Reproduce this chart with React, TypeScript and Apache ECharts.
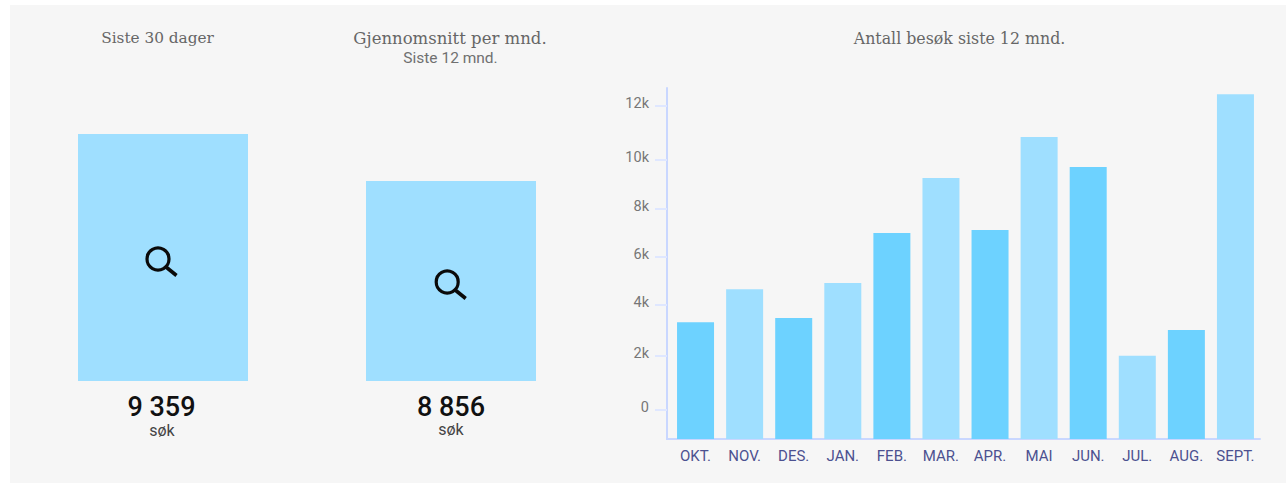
import React, { useEffect, useRef } from "react";
import * as echarts from "echarts";

const months = ["OKT.", "NOV.", "DES.", "JAN.", "FEB.", "MAR.", "APR.", "MAI", "JUN.", "JUL.", "AUG.", "SEPT."];
const visits = [3294, 4630, 3463, 4895, 6990, 9250, 7110, 10835, 9700, 1985, 2990, 12415];

const tickValues = [0, 2000, 4000, 6000, 8000, 10000, 12000];
const tickLabels = ["0", "2k", "4k", "6k", "8k", "10k", "12k"];
// The reference's axis is not evenly spaced: where each tick sits on the drawn scale.
const tickStops = [1173, 3305, 5319, 7199, 9094, 11029, 13173];

const summaryNames = ["Siste 30 dager", "Gjennomsnitt per mnd."];
const summaryValues = [9359, 8856];
const summaryLabels = ["9 359", "8 856"];

const LIGHT = "#9fdfff";
const DARK = "#6dd2ff";
const AXIS = "#c9d7ff";

function toScale(v: number): number {
  let i = 0;
  while (i < tickValues.length - 2 && v > tickValues[i + 1]) i++;
  const t = (v - tickValues[i]) / (tickValues[i + 1] - tickValues[i]);
  return tickStops[i] + t * (tickStops[i + 1] - tickStops[i]);
}

function headText(text: string, x: number, y: number, font: any, fill: string) {
  return {
    type: "text",
    x,
    y,
    z: 10,
    style: { text, fill, align: "center", verticalAlign: "middle", ...font },
  };
}

function magnifier(dx: number, dy: number) {
  return [
    {
      type: "circle",
      z: 10,
      shape: { cx: 158 + dx, cy: 259 + dy, r: 11 },
      style: { fill: "transparent", stroke: "#0a0a0a", lineWidth: 3.2 },
    },
    {
      type: "line",
      z: 10,
      shape: { x1: 166 + dx, y1: 267 + dy, x2: 176.5 + dx, y2: 275.5 + dy },
      style: { stroke: "#0a0a0a", lineWidth: 3.6 },
    },
  ];
}

const serif = (fontSize: number) => ({ fontFamily: "DejaVu Serif", fontSize });
const roboto = { fontFamily: "Roboto", fontSize: 15.5 };
const bigNumber = { fontFamily: "Roboto", fontSize: 27, fontWeight: 500, lineHeight: 24 };
const unit = { fontFamily: "Roboto", fontSize: 16, lineHeight: 15 };

export default function App() {
  const ref = useRef<HTMLDivElement>(null);
  useEffect(() => {
    const chart = echarts.init(ref.current!, null, { renderer: "svg" });
    chart.setOption({
      animation: false,
      backgroundColor: "#ffffff",
      graphic: [
        { type: "rect", z: -10, shape: { x: 10, y: 5, width: 1276, height: 478 }, style: { fill: "#f6f6f6" } },
        { type: "line", z: 5, shape: { x1: 666, y1: 439, x2: 672, y2: 439 }, style: { stroke: AXIS, lineWidth: 2 } },
        headText(summaryNames[0], 157.5, 38, serif(15.3), "#666666"),
        headText(summaryNames[1], 450, 38, serif(16.5), "#666666"),
        headText("Siste 12 mnd.", 450.5, 58, roboto, "#707070"),
        headText("Antall besøk siste 12 mnd.", 959.5, 38, serif(15.8), "#666666"),
        headText(summaryLabels[0], 161.5, 406.5, bigNumber, "#111111"),
        headText(summaryLabels[1], 451, 406.5, bigNumber, "#111111"),
        headText("søk", 162, 430.5, unit, "#444444"),
        headText("søk", 451, 429.5, unit, "#444444"),
        ...magnifier(0, 0),
        ...magnifier(289.2, 23),
      ],
      grid: [
        { left: 671, top: 88, width: 589, height: 351 },
        { left: 19, top: 134, width: 576, height: 247 },
      ],
      xAxis: [
        {
          type: "category",
          gridIndex: 0,
          data: months,
          axisLine: { show: true, lineStyle: { color: AXIS, width: 2 } },
          axisTick: { show: false },
          axisLabel: { color: "#4c5190", fontFamily: "Roboto", fontSize: 15, margin: 9, interval: 0 },
        },
        {
          type: "category",
          gridIndex: 1,
          data: summaryNames,
          axisLine: { show: false },
          axisTick: { show: false },
          axisLabel: { show: false },
        },
      ],
      yAxis: [
        {
          type: "value",
          gridIndex: 0,
          min: 0,
          max: 13860,
          offset: 4,
          splitLine: { show: false },
          axisLine: { show: true, lineStyle: { color: AXIS, width: 2 } },
          axisTick: { show: true, length: 12, customValues: tickStops, lineStyle: { color: "#dfe7ff", width: 2 } },
          axisLabel: {
            customValues: tickStops,
            color: "#777777",
            fontFamily: "Roboto",
            fontSize: 14.5,
            margin: 18,
            verticalAlign: "bottom",
            lineHeight: 4,
            formatter: (v: number) => tickLabels[tickStops.indexOf(v)] ?? "",
          },
        },
        {
          type: "value",
          gridIndex: 1,
          min: 6715,
          max: 9359,
          show: false,
          splitLine: { show: false },
        },
      ],
      series: [
        {
          type: "bar",
          xAxisIndex: 0,
          yAxisIndex: 0,
          barWidth: 37,
          data: visits.map((v, i) => ({
            value: toScale(v),
            itemStyle: { color: i % 2 === 0 ? DARK : LIGHT },
          })),
        },
        {
          type: "bar",
          xAxisIndex: 1,
          yAxisIndex: 1,
          barWidth: 170,
          itemStyle: { color: LIGHT },
          data: summaryValues,
        },
      ],
    });
    return () => chart.dispose();
  }, []);
  return <div ref={ref} style={{ position: "absolute", left: 0, top: 0, width: 1286, height: 483 }} />;
}
